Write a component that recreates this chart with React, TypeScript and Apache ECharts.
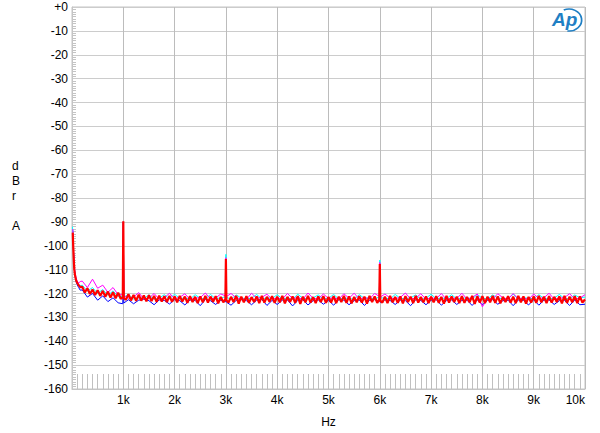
import React, { useEffect, useRef } from "react";
import * as echarts from "echarts";

// ---- data (dB values) ----
const X_TICKS = ["", "1k", "2k", "3k", "4k", "5k", "6k", "7k", "8k", "9k", "10k"];

// Red: low-frequency rise, 50 Hz noise grid from 200 Hz, spikes
const RED_LOW: [number, number][] = [[15, -94.5], [25, -101], [35, -106], [45, -110], [60, -112.5], [80, -114.5], [100, -115.5], [130, -116.5], [160, -117.3]];
const RED_NOISE = [
  -117.2, -119.6, -117.8, -120.2, -118.3, -120.6, -118.6, -121.0, -118.9, -121.4, -119.2, -121.7, -119.5, -122.0, -119.7, -122.2,
  -120.0, -122.6, -120.3, -122.9, -120.6, -123.1, -120.5, -123.0, -120.8, -123.3, -120.7, -123.2, -121.0, -123.5, -120.9, -123.4, -121.1, -123.6, -121.0, -123.5,
  -121.2, -123.7, -121.0, -123.4, -121.3, -123.9, -121.1, -123.6, -121.4, -124.0, -121.2, -123.7, -121.0, -123.8, -121.3, -123.5, -121.1, -124.1, -121.4, -123.7,
  -121.2, -123.8, -121.4, -123.6, -121.0, -124.2, -121.3, -123.7, -121.1, -123.9, -121.5, -123.6, -121.2, -124.0, -121.0, -123.8, -121.4, -123.5, -121.1, -123.9,
  -121.3, -123.7, -121.0, -124.1, -121.4, -123.6, -121.2, -123.9, -121.1, -124.4, -121.3, -123.7, -121.0, -123.8, -121.5, -124.0, -121.2, -123.6, -121.1, -123.9,
  -121.4, -123.8, -121.1, -124.0, -121.3, -123.6, -121.0, -123.9, -121.2, -124.1, -121.4, -123.7, -121.1, -123.8, -121.3, -124.2, -121.0, -123.6, -121.2, -123.9,
  -121.1, -123.8, -121.3, -124.0, -121.0, -123.7, -121.4, -123.9, -121.2, -124.1, -121.1, -123.6, -121.3, -124.0, -121.0, -123.8, -121.5, -123.7, -121.2, -124.0,
  -121.3, -123.7, -121.1, -123.9, -121.4, -124.2, -121.0, -123.8, -121.2, -123.6, -121.3, -124.0, -121.1, -123.9, -121.4, -123.7, -121.0, -124.4, -121.2, -123.8,
  -121.1, -124.0, -121.3, -123.7, -121.0, -123.9, -121.2, -124.1, -121.4, -123.6, -121.1, -123.8, -121.3, -124.0, -121.0, -123.7, -121.2, -124.2, -121.4, -123.8,
  -121.2, -123.9, -121.0, -123.7, -121.3, -124.0, -121.1, -123.8, -121.4, -123.6, -121.2, -124.1, -121.0, -123.9, -121.3, -123.7, -121.1, -124.0, -121.2, -123.8,
  -122.5,
];
const RED_SPIKES: [number, number][] = [[990, -121.6], [1000, -89.7], [1010, -122.0], [2990, -122.4], [3000, -105.6], [3010, -122.8], [5990, -122.5], [6000, -107.6], [6010, -123.0]];

const BLUE_LOW: [number, number][] = [[15, -93.5], [25, -100], [35, -105.5], [45, -109.5], [60, -112.5], [80, -115], [100, -116.3], [130, -117.5], [160, -118.6]];
const BLUE_NOISE = [
  -118.5, -121.5, -120.0, -122.8, -121.0, -123.4, -121.8, -123.9,
  -124.5, -122.6, -124.3, -122.8, -122.4, -123.0, -124.7, -122.7, -122.9, -124.4,
  -122.6, -123.0, -124.8, -122.7, -122.9, -125.1, -122.5, -123.0, -124.6, -122.8,
  -122.7, -124.9, -122.9, -122.6, -123.0, -124.7, -122.8, -122.5, -125.0, -122.9,
  -124.6, -122.8, -122.7, -125.2, -122.9, -122.6, -124.8, -123.0, -122.7, -124.5,
  -122.9, -124.9, -122.6, -122.8, -124.7, -123.0, -122.7, -125.0, -122.9, -122.6,
  -124.8, -122.7, -122.9, -124.6, -122.8, -123.0, -125.1, -122.6, -122.9, -124.7,
  -122.8, -122.6, -124.9, -123.0, -122.7, -124.6, -122.9, -122.8, -125.0, -122.7,
  -124.7, -122.9, -122.6, -124.5, -123.0, -122.8, -125.1, -122.7, -122.9, -124.8,
  -122.6, -124.9, -122.8, -122.7, -124.6, -123.0, -122.9, -125.0, -122.7, -124.7,
  -124.5,
];
const BLUE_SPIKES: [number, number][] = [[990, -124.3], [1000, -90.0], [1010, -124.0], [2990, -123.5], [3000, -105.8], [3010, -123.6], [5990, -123.4], [6000, -107.4], [6010, -123.7]];

const MAGENTA_LOW: [number, number][] = [[15, -93], [25, -99.5], [35, -104.5], [45, -108.5], [60, -111.5], [80, -113.5], [100, -114.8], [130, -115.6], [160, -115.0]];
const MAGENTA_NOISE = [
  -114.8, -117.5, -114.0, -117.8, -116.5, -119.5, -117.5, -120.5,
  -119.2, -122.0, -121.5, -119.6, -122.3, -122.0, -120.0, -122.4, -121.8, -119.9,
  -122.2, -121.6, -120.1, -122.5, -122.0, -121.7, -119.8, -122.3, -121.9, -120.2,
  -122.4, -120.0, -121.8, -122.2, -122.5, -119.9, -122.0, -121.6, -120.3, -122.4,
  -121.9, -122.3, -120.0, -122.1, -121.7, -122.4, -119.8, -122.0, -122.3, -120.2,
  -122.1, -121.8, -122.4, -120.1, -122.0, -119.9, -122.3, -121.7, -122.2, -120.0,
  -122.4, -120.2, -121.9, -122.2, -121.6, -119.8, -122.3, -122.0, -120.1, -122.4,
  -121.8, -122.2, -120.0, -122.5, -121.9, -122.1, -119.9, -122.3, -121.7, -120.2,
  -125.6, -122.0, -122.3, -120.1, -121.8, -122.4, -120.0, -122.2, -121.9, -122.5,
  -120.2, -122.1, -121.8, -119.9, -122.4, -122.0, -121.7, -120.1, -122.3, -121.9,
  -120.5,
];
const MAGENTA_SPIKES: [number, number][] = [[990, -120.5], [1000, -90.2], [1010, -120.9], [2990, -121.0], [3000, -105.0], [3010, -121.3], [5990, -121.2], [6000, -107.0], [6010, -121.5]];

const CYAN_LOW: [number, number][] = [[10, -92], [20, -97], [30, -103], [40, -107.5], [55, -111], [75, -113.5], [100, -115.2], [130, -116.2], [160, -116.8]];
const CYAN_NOISE = [
  -116.5, -119.0, -117.5, -120.0, -118.3, -120.8, -118.9, -121.3,
  -122.0, -120.4, -122.3, -121.8, -122.1, -120.6, -122.4, -121.9, -120.5, -122.2,
  -120.3, -122.1, -121.9, -122.4, -120.5, -122.0, -122.3, -120.4, -122.2, -121.8,
  -122.1, -122.4, -120.6, -121.9, -122.2, -122.0, -120.4, -122.3, -121.8, -122.1,
  -120.5, -122.2, -121.9, -122.4, -120.3, -122.0, -122.2, -121.8, -120.6, -122.3,
  -122.0, -120.4, -122.3, -121.9, -122.1, -122.4, -120.5, -122.0, -121.8, -122.2,
  -122.1, -121.9, -122.3, -120.4, -122.0, -122.2, -121.8, -120.6, -122.4, -122.0,
  -120.3, -122.2, -121.9, -122.1, -120.5, -122.3, -122.0, -121.8, -122.4, -120.4,
  -122.0, -122.3, -120.6, -121.9, -122.2, -122.1, -120.3, -122.4, -121.8, -122.0,
  -122.2, -120.5, -122.0, -122.3, -121.9, -120.4, -122.1, -122.2, -120.6, -121.8,
  -121.5,
];
const CYAN_SPIKES: [number, number][] = [[990, -121.2], [1000, -90.5], [1010, -121.5], [2990, -121.4], [3000, -103.6], [3010, -121.6], [5990, -121.5], [6000, -106.0], [6010, -121.8]];

function build(low: [number, number][], start: number, step: number, noise: number[], spikes: [number, number][]) {
  const spikeFreqs = new Set(spikes.map((p) => p[0]));
  const grid: [number, number][] = noise
    .map((v, i) => [start + i * step, v] as [number, number])
    .filter((p) => !spikeFreqs.has(p[0]));
  return [...low, ...grid, ...spikes].sort((a, b) => a[0] - b[0]);
}

const FONT = "'Liberation Sans', Arial, Helvetica, sans-serif";
const GRID_LINE = "#c4c4c4";

export default function App() {
  const ref = useRef<HTMLDivElement>(null);
  useEffect(() => {
    if (!ref.current) return;
    const chart = echarts.init(ref.current, null, { renderer: "svg" });
    const mk = (name: string, color: string, data: [number, number][], width: number) => ({
      name,
      type: "line",
      data,
      showSymbol: false,
      symbol: "none",
      lineStyle: { color, width },
      itemStyle: { color },
      z: 3,
    });
    chart.setOption({
      animation: false,
      backgroundColor: "#ffffff",
      grid: { left: 72, right: 15, top: 7, bottom: 43, show: true, borderColor: GRID_LINE, borderWidth: 1 },
      xAxis: {
        type: "value",
        min: 0,
        max: 10000,
        interval: 1000,
        name: "Hz",
        nameLocation: "middle",
        nameGap: 27,
        nameTextStyle: { color: "#000", fontSize: 12, fontFamily: FONT },
        axisLine: { show: true, onZero: false, lineStyle: { color: GRID_LINE } },
        axisTick: { show: false, inside: true },
        minorTick: { show: true, splitNumber: 10, length: 15, lineStyle: { color: "#c0c0c0", width: 1 } },
        splitLine: { show: true, lineStyle: { color: "#bcbcbc", width: 1 } },
        axisLabel: {
          color: "#000",
          fontSize: 12,
          fontFamily: FONT,
          margin: 5,
          alignMaxLabel: "right",
          formatter: (v: number) => X_TICKS[Math.round(v / 1000)] ?? "",
        },
      },
      yAxis: {
        type: "value",
        min: -160,
        max: 0,
        interval: 10,
        axisLine: { show: true, onZero: false, lineStyle: { color: GRID_LINE } },
        axisTick: { show: false, inside: true },
        minorTick: { show: true, splitNumber: 10, length: 4, lineStyle: { color: "#c4c4c4", width: 1 } },
        splitLine: { show: true, lineStyle: { color: "#cccccc", width: 1 } },
        axisLabel: {
          color: "#000",
          fontSize: 12,
          fontFamily: FONT,
          margin: 4,
          formatter: (v: number) => (v === 0 ? "+0" : String(v)),
        },
      },
      series: [
        mk("blue", "#0000ff", build(BLUE_LOW, 200, 100, BLUE_NOISE, BLUE_SPIKES), 1),
        mk("cyan", "#00ffff", build(CYAN_LOW, 200, 100, CYAN_NOISE, CYAN_SPIKES), 1),
        mk("magenta", "#ff00ff", build(MAGENTA_LOW, 200, 100, MAGENTA_NOISE, MAGENTA_SPIKES), 1),
        mk("red", "#ff0000", build(RED_LOW, 200, 50, RED_NOISE, RED_SPIKES), 2.2),
      ],
      graphic: [
        {
          type: "text",
          left: 12,
          top: 158,
          style: { text: "d\nB\nr\n\nA", fill: "#000", font: `12px ${FONT}`, lineHeight: 15, align: "center", x: 5 },
        },
        {
          type: "text",
          x: 552,
          y: 10,
          style: { text: "Ap", fill: "#1f7fc4", font: `italic bold 19px ${FONT}` },
          z: 10,
        },
        {
          type: "arc",
          shape: { cx: 569, cy: 20, r: 11, startAngle: -2.0, endAngle: 1.7 },
          scaleX: 1.15,
          originX: 569,
          originY: 20,
          style: { stroke: "#1f7fc4", lineWidth: 1.5, fill: "none" },
          z: 10,
        },
      ],
    });
    return () => chart.dispose();
  }, []);
  return <div ref={ref} style={{ position: "fixed", left: 0, top: 0, width: 600, height: 433 }} />;
}
